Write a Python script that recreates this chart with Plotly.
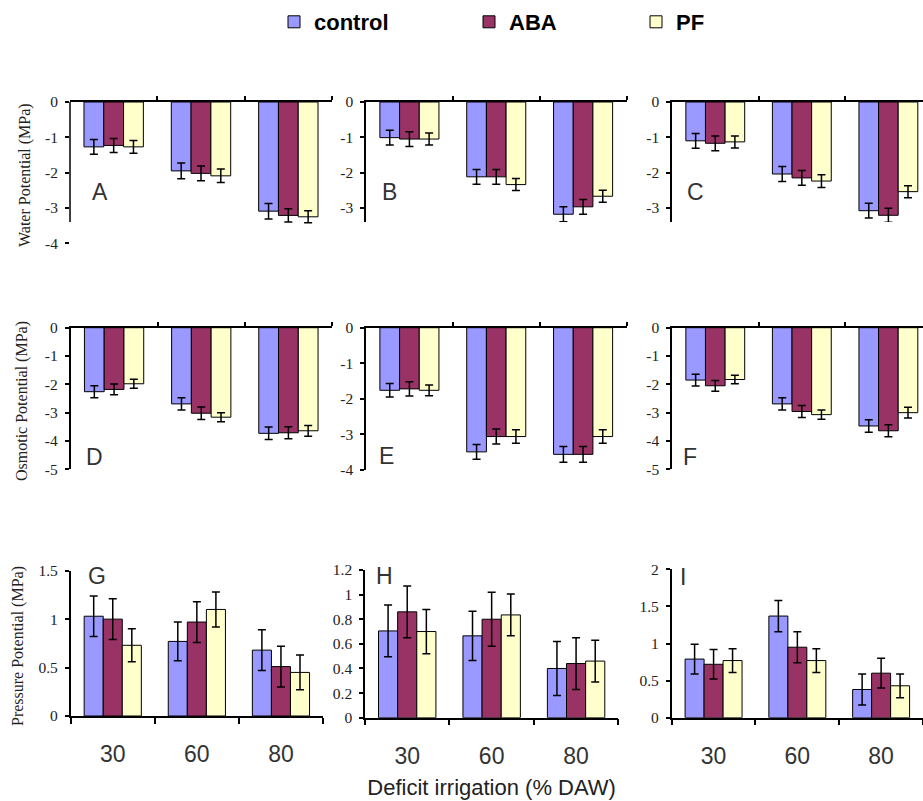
import plotly.graph_objects as go

# ---------------- data ----------------
categories = ["30", "60", "80"]
series_names = ["control", "ABA", "PF"]
series_colors = ["#9999FF", "#993366", "#FFFFCC"]

# Water potential (MPa)
A_control = [-1.27, -1.95, -3.09]
A_aba = [-1.23, -2.02, -3.21]
A_pf = [-1.27, -2.09, -3.25]
A_control_err = [0.21, 0.22, 0.22]
A_aba_err = [0.20, 0.21, 0.19]
A_pf_err = [0.18, 0.19, 0.17]

B_control = [-1.01, -2.12, -3.18]
B_aba = [-1.05, -2.12, -2.97]
B_pf = [-1.05, -2.34, -2.67]
B_control_err = [0.21, 0.21, 0.21]
B_aba_err = [0.21, 0.21, 0.21]
B_pf_err = [0.17, 0.17, 0.17]

C_control = [-1.10, -2.04, -3.08]
C_aba = [-1.17, -2.15, -3.21]
C_pf = [-1.13, -2.24, -2.54]
C_control_err = [0.21, 0.21, 0.21]
C_aba_err = [0.21, 0.21, 0.20]
C_pf_err = [0.17, 0.18, 0.17]

# Osmotic potential (MPa)
D_control = [-2.26, -2.69, -3.73]
D_aba = [-2.18, -3.02, -3.71]
D_pf = [-1.98, -3.16, -3.64]
D_control_err = [0.21, 0.22, 0.22]
D_aba_err = [0.19, 0.22, 0.21]
D_pf_err = [0.16, 0.16, 0.19]

E_control = [-1.76, -3.49, -3.56]
E_aba = [-1.72, -3.06, -3.56]
E_pf = [-1.76, -3.06, -3.06]
E_control_err = [0.19, 0.21, 0.22]
E_aba_err = [0.20, 0.21, 0.22]
E_pf_err = [0.15, 0.19, 0.19]

F_control = [-1.85, -2.69, -3.47]
F_aba = [-2.05, -2.96, -3.64]
F_pf = [-1.83, -3.07, -3.00]
F_control_err = [0.21, 0.22, 0.22]
F_aba_err = [0.19, 0.21, 0.21]
F_pf_err = [0.15, 0.16, 0.19]

# Pressure potential (MPa)
G_control = [1.03, 0.77, 0.68]
G_aba = [1.00, 0.97, 0.51]
G_pf = [0.73, 1.10, 0.45]
G_control_err = [0.21, 0.20, 0.21]
G_aba_err = [0.21, 0.21, 0.21]
G_pf_err = [0.17, 0.18, 0.18]

H_control = [0.705, 0.665, 0.40]
H_aba = [0.86, 0.80, 0.44]
H_pf = [0.70, 0.835, 0.46]
H_control_err = [0.21, 0.20, 0.22]
H_aba_err = [0.21, 0.22, 0.21]
H_pf_err = [0.18, 0.17, 0.17]

I_control = [0.79, 1.37, 0.38]
I_aba = [0.72, 0.95, 0.60]
I_pf = [0.77, 0.77, 0.43]
I_control_err = [0.20, 0.21, 0.21]
I_aba_err = [0.20, 0.21, 0.20]
I_pf_err = [0.16, 0.16, 0.16]

panel_letters = ["A", "B", "C", "D", "E", "F", "G", "H", "I"]
y_titles = ["Water Potential (MPa)", "Osmotic Potential (MPa)", "Pressure Potential (MPa)"]
x_title = "Deficit irrigation (% DAW)"

panels = [
    (A_control, A_aba, A_pf, A_control_err, A_aba_err, A_pf_err),
    (B_control, B_aba, B_pf, B_control_err, B_aba_err, B_pf_err),
    (C_control, C_aba, C_pf, C_control_err, C_aba_err, C_pf_err),
    (D_control, D_aba, D_pf, D_control_err, D_aba_err, D_pf_err),
    (E_control, E_aba, E_pf, E_control_err, E_aba_err, E_pf_err),
    (F_control, F_aba, F_pf, F_control_err, F_aba_err, F_pf_err),
    (G_control, G_aba, G_pf, G_control_err, G_aba_err, G_pf_err),
    (H_control, H_aba, H_pf, H_control_err, H_aba_err, H_pf_err),
    (I_control, I_aba, I_pf, I_control_err, I_aba_err, I_pf_err),
]

# ---------------- layout geometry (pixels) ----------------
W, H = 923, 801
def fx(p):
    return p / W
def fy(p):
    return 1 - p / H

# (x_left, x_right, y_top, y_bottom, yrange, xrange_end, yticks, axis-line end)
geom = [
    (70, 332, 102, 243.3, [-4, 0], 2.5, [0, -1, -2, -3, -4], -3.4),
    (366, 626.5, 102, 222, [-3.4, 0], 2.5, [0, -1, -2, -3], None),
    (672, 923, 102, 222, [-3.4, 0], 2.4, [0, -1, -2, -3], None),
    (70.5, 332, 327.7, 469.3, [-5, 0], 2.5, [0, -1, -2, -3, -4, -5], None),
    (366, 626.5, 327.7, 470, [-4, 0], 2.5, [0, -1, -2, -3, -4], None),
    (672, 923, 327.7, 469.3, [-5, 0], 2.4, [0, -1, -2, -3, -4, -5], None),
    (70.7, 323, 570.7, 716, [0, 1.5], 2.5, [0, 0.5, 1, 1.5], None),
    (365, 618.3, 570, 717.7, [0, 1.2], 2.5, [0, 0.2, 0.4, 0.6, 0.8, 1, 1.2], None),
    (671.7, 923, 569.3, 717.7, [0, 2], 2.5, [0, 0.5, 1, 1.5, 2], None),
]

letter_pos = [(99.5, 192), (389.5, 191.5), (695, 191.5),
              (94, 457.5), (386, 456), (690, 457.5),
              (96.5, 575.5), (384, 575.5), (683, 576.5)]

legend_x = [274, 469, 636]

serif = "Liberation Serif, Times New Roman, serif"
sans = "Liberation Sans, Arial, sans-serif"

fig = go.Figure()
xpos = list(range(len(categories)))
legend_ids = ["legend", "legend2", "legend3"]

for i, (vals_c, vals_a, vals_p, e_c, e_a, e_p) in enumerate(panels):
    sfx = "" if i == 0 else str(i + 1)
    for j, (vals, errs) in enumerate([(vals_c, e_c), (vals_a, e_a), (vals_p, e_p)]):
        fig.add_trace(go.Bar(
            x=xpos, y=vals, name=series_names[j],
            marker=dict(color=series_colors[j], line=dict(color="black", width=1)),
            error_y=dict(type="data", array=errs, color="black", thickness=1.5, width=4),
            xaxis="x" + sfx, yaxis="y" + sfx,
            showlegend=(i == 0), legendgroup=series_names[j], legend=legend_ids[j],
        ))

    xl, xr, yt, yb, yr, xend, yticks, line_end = geom[i]
    bottom_row = i >= 6
    xa = dict(
        domain=[fx(xl), fx(xr)], range=[-0.5, xend], anchor="y" + sfx,
        showline=True, linecolor="black", linewidth=1.5, showgrid=False, zeroline=False,
        fixedrange=True, automargin=False,
    )
    if bottom_row:
        xa.update(side="bottom", tickvals=xpos, ticktext=categories, ticks="",
                  tickfont=dict(family=sans, size=23, color="#333333"),
                  ticklabelstandoff=17,
                  minor=dict(ticks="outside", tick0=0.5, dtick=1, ticklen=6,
                             tickcolor="black", tickwidth=1.5, showgrid=False))
    else:
        xa.update(side="top", tickvals=[0.5, 1.5, 2.5], showticklabels=False,
                  ticks="outside", ticklen=4, tickcolor="black", tickwidth=1.5)
    if i == 7:
        xa.update(title=dict(text=x_title, font=dict(family=sans, size=22, color="#222222"),
                             standoff=12))
    ya = dict(
        domain=[fy(yb), fy(yt)], range=yr, anchor="x" + sfx,
        showline=line_end is None, linecolor="black", linewidth=1.5,
        showgrid=False, zeroline=False,
        tickvals=yticks, ticktext=[f"{v:g}" for v in yticks],
        ticks="outside", ticklen=4, tickcolor="black", tickwidth=1.5,
        ticklabelstandoff=4,
        tickfont=dict(family=serif, size=15.5, color="#222222"),
        fixedrange=True, automargin=False,
    )
    fig.update_layout({"xaxis" + sfx: xa, "yaxis" + sfx: ya})
    if line_end is not None:
        fig.add_shape(type="line", xref="x" + sfx + " domain", yref="y" + sfx,
                      x0=0, x1=0, y0=0, y1=line_end,
                      line=dict(color="black", width=1.5))

    lx, ly = letter_pos[i]
    fig.add_annotation(x=fx(lx), y=fy(ly), xref="paper", yref="paper",
                       text=panel_letters[i], showarrow=False,
                       font=dict(family=sans, size=23, color="#333333"),
                       xanchor="center", yanchor="middle")

# y-axis titles
for text, (px, py) in zip(y_titles, [(25, 175), (22, 401), (18, 646)]):
    fig.add_annotation(x=fx(px), y=fy(py), xref="paper", yref="paper",
                       text=text, textangle=-90, showarrow=False,
                       font=dict(family=serif, size=16, color="#222222"),
                       xanchor="center", yanchor="middle")

legend_style = dict(orientation="h", y=fy(1), xanchor="left", yanchor="top",
                    font=dict(family=sans, size=22, color="black", weight="bold"),
                    bgcolor="rgba(0,0,0,0)")
fig.update_layout(
    width=W, height=H,
    margin=dict(l=0, r=0, t=0, b=0, autoexpand=False),
    paper_bgcolor="white", plot_bgcolor="white",
    barmode="group", bargap=0.32, bargroupgap=0,
    legend=dict(x=fx(legend_x[0]), **legend_style),
    legend2=dict(x=fx(legend_x[1]), **legend_style),
    legend3=dict(x=fx(legend_x[2]), **legend_style),
    showlegend=True,
)

fig.write_html("out.html")
